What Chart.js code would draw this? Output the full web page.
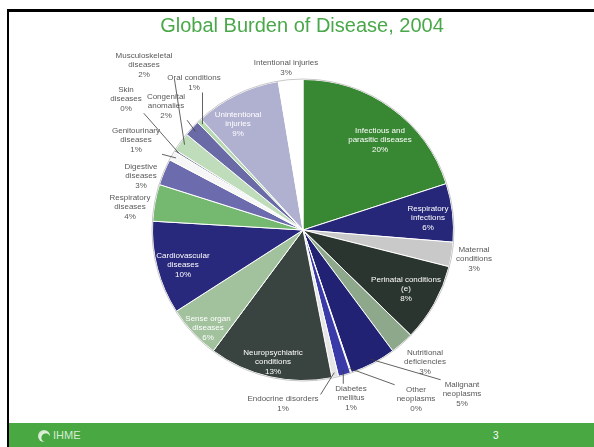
<!DOCTYPE html>
<html>
<head>
<meta charset="utf-8">
<script src="https://cdn.jsdelivr.net/npm/chart.js@4"></script>
<style>
body{margin:0;width:594px;height:447px;overflow:hidden;background:#fff;position:relative;font-family:"Liberation Sans",Arial,sans-serif}
#frameTop{position:absolute;left:7px;top:9px;right:0;height:3px;background:#000}
#frameLeft{position:absolute;left:7px;top:9px;width:2px;bottom:0;background:#000}
#title{position:absolute;left:0;width:604px;top:13px;text-align:center;color:#4aa84a;font-size:20px;line-height:24px}
#footer{position:absolute;left:9px;right:0;top:423px;bottom:0;background:#4aa843}
#logo{position:absolute;left:29px;top:7px;width:12px;height:12px;border-radius:50%;background:radial-gradient(circle at 65% 65%,#4aa843 0 35%,#e4f2e0 45%,#b9dcb3 100%)}
#ihme{position:absolute;left:44px;top:6px;color:#d6ecd2;font-size:11px;letter-spacing:0px}
#page{position:absolute;left:484px;top:7px;color:#fff;font-size:10px}
canvas{position:absolute;left:0;top:0}
</style>
</head>
<body>
<canvas id="pie" width="594" height="447"></canvas>
<div id="frameTop"></div>
<div id="frameLeft"></div>
<div id="title">Global Burden of Disease, 2004</div>
<div id="footer"><div id="logo"></div><div id="ihme">IHME</div><div id="page">3</div></div>
<script>
// share of global DALYs, clockwise from 12 o'clock
var categories = [
  'Infectious and\nparasitic diseases', 'Respiratory\ninfections', 'Maternal\nconditions',
  'Perinatal conditions\n(e)', 'Nutritional\ndeficiencies', 'Malignant\nneoplasms',
  'Other\nneoplasms', 'Diabetes\nmellitus', 'Endocrine disorders',
  'Neuropsychiatric\nconditions', 'Sense organ\ndiseases', 'Cardiovascular\ndiseases',
  'Respiratory\ndiseases', 'Digestive\ndiseases', 'Genitourinary\ndiseases',
  'Skin\ndiseases', 'Musculoskeletal\ndiseases', 'Congenital\nanomalies',
  'Oral conditions', 'Unintentional\ninjuries', 'Intentional injuries'
];
var shares = [19.8, 6.2, 2.6, 8.3, 2.5, 4.9, 0.1, 1.3, 0.7, 13.1, 5.7, 9.9, 3.9, 2.8, 1.0, 0.2, 2.0, 1.7, 0.5, 9.1, 2.6];
var pctLabels = ['20%', '6%', '3%', '8%', '3%', '5%', '0%', '1%', '1%', '13%', '6%', '10%', '4%', '3%', '1%', '0%', '2%', '2%', '1%', '9%', '3%'];

var sliceColors = ['#388732', '#27277a', '#c9c9c9', '#2b352f', '#8da88a', '#222275', '#ffffff',
  '#3a3aa8', '#e6e6e6', '#394440', '#a2c29e', '#28287c', '#75b870', '#6b6bad', '#f6f6f6',
  '#7a7a9a', '#bfdcbb', '#6a6aa6', '#b7d9b2', '#b0b0d0', '#ffffff'];

// where each label sits (text centre) and whether it gets a leader line
var labelSpots = [
  {x: 380, y: 140, inside: true}, {x: 428, y: 218, inside: true}, {x: 474, y: 259},
  {x: 406, y: 289, inside: true}, {x: 425, y: 362}, {x: 462, y: 394, lead: true},
  {x: 416, y: 399, lead: true}, {x: 351, y: 398, lead: true}, {x: 283, y: 404, lead: true},
  {x: 273, y: 362, inside: true}, {x: 208, y: 328, inside: true}, {x: 183, y: 265, inside: true},
  {x: 130, y: 207}, {x: 141, y: 176}, {x: 136, y: 140, lead: true},
  {x: 126, y: 99, lead: true}, {x: 144, y: 65, lead: true}, {x: 166, y: 106, lead: true},
  {x: 194, y: 83, lead: true}, {x: 238, y: 124, inside: true}, {x: 286, y: 68}
];

var sliceLabels = {
  id: 'sliceLabels',
  afterDatasetsDraw: function(chart) {
    var ctx = chart.ctx;
    var arcs = chart.getDatasetMeta(0).data;
    var lh = 9.5;
    ctx.save();
    // soft rim round the pie
    var a0 = arcs[0];
    ctx.beginPath();
    ctx.arc(a0.x, a0.y, a0.outerRadius + 0.5, 0, Math.PI * 2);
    ctx.strokeStyle = '#c8c8c8';
    ctx.lineWidth = 1;
    ctx.stroke();

    ctx.font = '8px "Liberation Sans", Arial, sans-serif';
    ctx.textAlign = 'center';
    ctx.textBaseline = 'middle';
    arcs.forEach(function(arc, i) {
      var spot = labelSpots[i];
      var lines = (categories[i] + '\n' + pctLabels[i]).split('\n');
      var top = spot.y - (lines.length - 1) * lh / 2;
      if (spot.lead) {
        var mid = (arc.startAngle + arc.endAngle) / 2;
        var ex = arc.x + arc.outerRadius * 0.97 * Math.cos(mid);
        var ey = arc.y + arc.outerRadius * 0.97 * Math.sin(mid);
        var w = 0;
        lines.forEach(function(t) { w = Math.max(w, ctx.measureText(t).width); });
        var sx = Math.min(Math.max(ex, spot.x - w / 2 - 2), spot.x + w / 2 + 2);
        var sy = Math.min(Math.max(ey, top - lh / 2), top + (lines.length - 1) * lh + lh / 2);
        ctx.beginPath();
        ctx.moveTo(sx, sy);
        ctx.lineTo(ex, ey);
        ctx.strokeStyle = '#3c3c3c';
        ctx.lineWidth = 0.8;
        ctx.stroke();
      }
      ctx.fillStyle = spot.inside ? '#ffffff' : '#595959';
      lines.forEach(function(t, k) {
        ctx.fillText(t, spot.x, top + k * lh);
      });
    });
    ctx.restore();
  }
};

new Chart(document.getElementById('pie'), {
  type: 'pie',
  data: {
    labels: categories,
    datasets: [{
      data: shares,
      backgroundColor: sliceColors,
      borderColor: '#ffffff',
      borderWidth: 1
    }]
  },
  options: {
    responsive: false,
    animation: false,
    layout: {padding: {top: 79, bottom: 66, left: 152, right: 140}},
    plugins: {legend: {display: false}, tooltip: {enabled: false}}
  },
  plugins: [sliceLabels]
});
</script>
</body>
</html>
